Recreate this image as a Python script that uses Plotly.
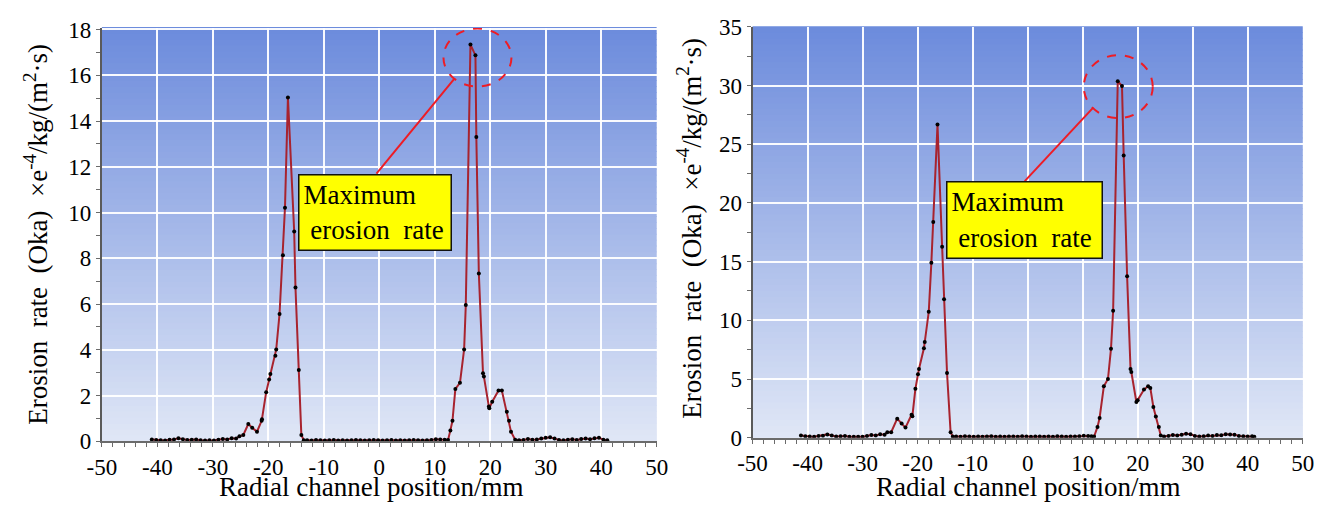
import plotly.graph_objects as go

# ---- Panel (a): erosion rate profile, first operating case ----
pos_a = [
    -41.0, -40.2, -39.4, -38.6, -37.8, -37.0, -36.2, -35.4, -34.6, -33.8,
    -33.0, -32.2, -31.4, -30.6, -29.8, -29.0, -28.2, -27.4, -26.6, -25.8,
    -25.2, -24.5, -23.6, -22.9, -22.04, -21.2, -21.14, -20.38, -19.85, -19.62,
    -18.72, -18.57, -17.97, -17.36, -16.99, -16.46, -15.33, -15.1, -14.5, -14.04,
    -13.6, -13.0, -12.2, -11.4, -10.6, -9.8, -9.0, -8.2, -7.4, -6.6,
    -5.8, -5.0, -4.2, -3.4, -2.6, -1.8, -1.0, -0.2, 0.6, 1.4,
    2.2, 3.0, 3.8, 4.6, 5.4, 6.2, 7.0, 7.8, 8.6, 9.4,
    10.2, 11.0, 11.8, 12.4, 12.82, 13.2, 13.72, 14.55, 15.3, 15.6,
    16.44, 17.34, 17.5, 17.95, 18.7, 18.86, 19.76, 19.84, 20.36, 21.5,
    22.1, 23.0, 23.4, 23.75, 24.5, 25.2, 26.0, 26.8, 27.6, 28.4,
    29.2, 30.0, 30.8, 31.6, 32.4, 33.2, 34.0, 34.8, 35.6, 36.4,
    37.2, 38.0, 38.8, 39.6, 40.4, 41.1,
]
rate_a = [
    0.08, 0.06, 0.05, 0.04, 0.07, 0.08, 0.14, 0.09, 0.06, 0.07,
    0.08, 0.05, 0.04, 0.05, 0.04, 0.07, 0.10, 0.08, 0.14, 0.12,
    0.22, 0.28, 0.76, 0.60, 0.42, 0.90, 0.97, 2.15, 2.70, 2.94,
    3.74, 4.02, 5.57, 8.13, 10.21, 15.03, 9.17, 6.72, 3.12, 0.28,
    0.05, 0.05, 0.04, 0.06, 0.05, 0.04, 0.05, 0.06, 0.04, 0.05,
    0.04, 0.05, 0.06, 0.05, 0.04, 0.05, 0.06, 0.05, 0.04, 0.05,
    0.06, 0.04, 0.05, 0.04, 0.05, 0.06, 0.05, 0.04, 0.05, 0.06,
    0.09, 0.08, 0.07, 0.06, 0.48, 0.90, 2.29, 2.56, 4.02, 5.96,
    17.34, 16.87, 13.30, 7.34, 2.98, 2.84, 1.52, 1.45, 1.73, 2.22,
    2.22, 1.29, 0.90, 0.42, 0.07, 0.05, 0.06, 0.10, 0.07, 0.08,
    0.12, 0.16, 0.18, 0.12, 0.06, 0.05, 0.07, 0.09, 0.06, 0.10,
    0.12, 0.09, 0.14, 0.16, 0.07, 0.05,
]

# ---- Panel (b): erosion rate profile, second operating case ----
pos_b = [
    -41.2, -40.4, -39.6, -38.8, -38.0, -37.2, -36.4, -35.6, -34.8, -34.0,
    -33.2, -32.4, -31.6, -30.8, -30.0, -29.2, -28.4, -27.6, -26.8, -26.0,
    -25.5, -24.8, -23.7, -22.9, -22.2, -21.1, -20.95, -20.4, -19.93, -19.75,
    -18.85, -18.7, -17.97, -17.5, -17.15, -16.38, -15.54, -15.19, -14.65, -14.0,
    -13.6, -13.0, -12.2, -11.4, -10.6, -9.8, -9.0, -8.2, -7.4, -6.6,
    -5.8, -5.0, -4.2, -3.4, -2.6, -1.8, -1.0, -0.2, 0.6, 1.4,
    2.2, 3.0, 3.8, 4.6, 5.4, 6.2, 7.0, 7.8, 8.6, 9.4,
    10.2, 11.0, 11.6, 12.08, 12.7, 13.08, 13.85, 14.6, 15.15, 15.54,
    16.38, 17.15, 17.46, 18.08, 18.7, 18.85, 19.77, 20.0, 21.15, 21.9,
    22.3, 22.85, 23.3, 23.85, 24.2, 24.8, 25.6, 26.4, 27.2, 28.0,
    28.8, 29.6, 30.4, 31.2, 32.0, 32.8, 33.6, 34.4, 35.2, 36.0,
    36.8, 37.6, 38.4, 39.2, 40.0, 40.8, 41.2,
]
rate_b = [
    0.18, 0.12, 0.10, 0.08, 0.14, 0.16, 0.28, 0.18, 0.10, 0.12,
    0.14, 0.08, 0.07, 0.09, 0.08, 0.14, 0.22, 0.18, 0.30, 0.26,
    0.46, 0.46, 1.62, 1.20, 0.86, 1.95, 1.82, 4.16, 5.40, 5.86,
    7.62, 8.16, 10.73, 14.90, 18.38, 26.68, 16.27, 11.80, 5.51, 0.46,
    0.10, 0.10, 0.08, 0.12, 0.10, 0.09, 0.11, 0.08, 0.10, 0.12,
    0.09, 0.10, 0.08, 0.11, 0.10, 0.09, 0.12, 0.10, 0.08, 0.10,
    0.11, 0.09, 0.10, 0.08, 0.12, 0.10, 0.09, 0.11, 0.10, 0.12,
    0.16, 0.14, 0.12, 0.10, 0.92, 1.68, 4.38, 5.00, 7.57, 10.81,
    30.38, 29.97, 24.05, 13.76, 5.86, 5.60, 3.03, 3.20, 4.10, 4.38,
    4.24, 2.62, 1.81, 0.92, 0.19, 0.10, 0.14, 0.22, 0.18, 0.24,
    0.34, 0.30, 0.14, 0.10, 0.12, 0.18, 0.14, 0.22, 0.20, 0.30,
    0.28, 0.26, 0.14, 0.12, 0.10, 0.12, 0.08,
]

# ---- Axis ticks ----
x_ticks = [-50, -40, -30, -20, -10, 0, 10, 20, 30, 40, 50]
x_tick_labels = ["-50", "-40", "-30", "-20", "-10", "0", "10", "20", "30", "40", "50"]
y_ticks_a = [0, 2, 4, 6, 8, 10, 12, 14, 16, 18]
y_ticks_b = [0, 5, 10, 15, 20, 25, 30, 35]

SERIF = "Liberation Serif"
LINE_RED = "#a8232e"
MARK_RED = "#ee1c25"
TOP_BLUE = (108, 139, 220)
LOW_BLUE = (224, 231, 246)

fig = go.Figure()

for pos, rate, xa, ya in [(pos_a, rate_a, "x", "y"), (pos_b, rate_b, "x2", "y2")]:
    fig.add_trace(go.Scatter(
        x=pos, y=rate, xaxis=xa, yaxis=ya, mode="lines+markers",
        line=dict(color=LINE_RED, width=2),
        marker=dict(color="black", size=4),
        showlegend=False, hoverinfo="x+y",
    ))

# vertical colour gradient behind each plot area
shapes = []
bands = 70
for xa, ya in [("x", "y"), ("x2", "y2")]:
    for i in range(bands):
        t = (i + 0.5) / bands
        c = tuple(round(LOW_BLUE[k] + (TOP_BLUE[k] - LOW_BLUE[k]) * t) for k in range(3))
        shapes.append(dict(
            type="rect", xref=f"{xa} domain", yref=f"{ya} domain",
            x0=0, x1=1, y0=i / bands, y1=(i + 1) / bands + 0.002,
            fillcolor=f"rgb{c}", line=dict(width=0), layer="below",
        ))

annotations = []

# highlight of the maximum value in each panel
callouts = [
    # axes, data, ellipse px offsets, leader px offsets, box shift, box inner size
    ("x", "y", pos_a, rate_a, (-27, 41, -42, 16), (-16, -34, -94, -129), (-172, -129), (143, 66)),
    ("x2", "y2", pos_b, rate_b, (-34, 35, -37, 26), (-25, -27, -93, -100), (-172, -100), (146, 67)),
]
for xa, ya, pos, rate, ell, lead, shift, size in callouts:
    k = rate.index(max(rate))
    px, py = pos[k], rate[k]
    shapes.append(dict(
        type="circle", xref=xa, yref=ya, xsizemode="pixel", ysizemode="pixel",
        xanchor=px, yanchor=py, x0=ell[0], x1=ell[1], y0=ell[2], y1=ell[3],
        line=dict(color=MARK_RED, width=2, dash="dash"), layer="above",
    ))
    shapes.append(dict(
        type="line", xref=xa, yref=ya, xsizemode="pixel", ysizemode="pixel",
        xanchor=px, yanchor=py, x0=lead[0], y0=lead[1], x1=lead[2], y1=lead[3],
        line=dict(color=MARK_RED, width=2), layer="above",
    ))
    annotations.append(dict(
        xref=xa, yref=ya, x=px, y=py, xanchor="left", yanchor="top",
        xshift=shift[0], yshift=shift[1], showarrow=False,
        text="Maximum<br>\u00a0erosion\u00a0\u00a0rate", align="left", valign="middle",
        width=size[0], height=size[1],
        bgcolor="#ffff00", bordercolor="#111111", borderwidth=1.5, borderpad=4,
        font=dict(family=SERIF, size=27, color="black"),
    ))

# axis titles
y_title = "Erosion\u00a0\u00a0rate\u00a0\u00a0(Oka)\u00a0\u00a0×e<sup>-4</sup>/kg/(m<sup>2</sup>·s)"
x_title = "Radial channel position/mm"
for xc, yc in [(0.016, 0.549), (0.5145, 0.5615)]:
    annotations.append(dict(
        xref="paper", yref="paper", x=xc, y=yc, xanchor="center", yanchor="middle",
        text=y_title, textangle=-90, showarrow=False,
        font=dict(family=SERIF, size=27, color="black"),
    ))
for xc in [0.2715, 0.773]:
    annotations.append(dict(
        xref="paper", yref="paper", x=xc, y=0.0, xanchor="center", yanchor="bottom",
        text=x_title, showarrow=False,
        font=dict(family=SERIF, size=27, color="black"),
    ))

tick_font = dict(family=SERIF, size=23, color="black")


def x_axis(domain, anchor):
    return dict(
        domain=domain, anchor=anchor, range=[-50, 50], tickmode="array",
        tickvals=x_ticks, ticktext=x_tick_labels, tickfont=tick_font,
        showgrid=True, gridcolor="rgba(255,255,255,0.95)", gridwidth=1.6,
        zeroline=False, showline=True, linecolor="#6b6b6b", linewidth=2,
        ticks="outside", ticklen=4, tickcolor="#6b6b6b",
        minor=dict(dtick=2, ticks="outside", ticklen=4, tickcolor="#6b6b6b", showgrid=False),
        fixedrange=True,
    )


def y_axis(domain, anchor, rng, ticks, minor_step):
    return dict(
        domain=domain, anchor=anchor, range=rng, tickmode="array",
        tickvals=ticks, ticktext=[str(v) for v in ticks], tickfont=tick_font,
        showgrid=True, gridcolor="rgba(255,255,255,0.95)", gridwidth=1.6,
        zeroline=False, showline=True, linecolor="#5a5a5a", linewidth=2,
        ticks="outside", ticklen=4, tickcolor="#6b6b6b",
        minor=dict(dtick=minor_step, ticks="outside", ticklen=4, tickcolor="#6b6b6b", showgrid=False),
        fixedrange=True,
    )


fig.update_layout(
    width=1337, height=517,
    margin=dict(l=0, r=0, t=0, b=0),
    paper_bgcolor="white", plot_bgcolor="rgb(224,231,246)",
    font=dict(family=SERIF, color="black"),
    xaxis=x_axis([0.0663, 0.4898], "y"),
    yaxis=y_axis([0.1273, 0.9677], "x", [0, 18.07], y_ticks_a, 1),
    xaxis2=x_axis([0.5630, 0.9830], "y2"),
    yaxis2=y_axis([0.1348, 0.9696], "x2", [0, 35], y_ticks_b, 2.5),
    shapes=shapes,
    annotations=annotations,
    showlegend=False,
)

fig.write_html("out.html")
